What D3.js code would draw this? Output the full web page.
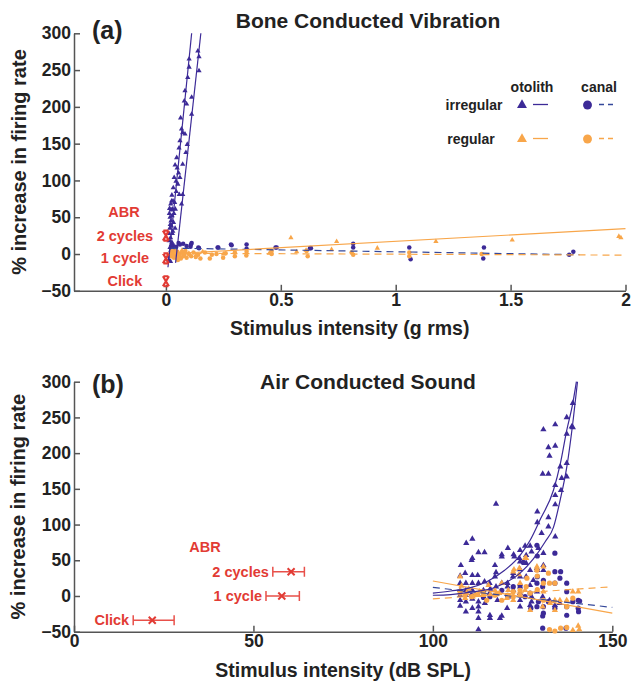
<!DOCTYPE html>
<html>
<head>
<meta charset="utf-8">
<script src="https://cdn.jsdelivr.net/npm/d3@7"></script>
<style>
  body { margin: 0; background: #fff; }
  text { font-family: "Liberation Sans", Arial, Helvetica, sans-serif; font-weight: bold; }
</style>
</head>
<body>
<script>
// ---------- (a) bone conducted vibration, x in g rms ----------
const aIrrOtolith = [[0.139,276],[0.144,268],[0.144,249],[0.101,265],[0.101,254],[0.083,222],[0.080,208],[0.112,213],[0.112,190],[0.068,170],[0.073,165],[0.061,154],[0.083,163],[0.093,149],[0.087,138],[0.047,131],[0.049,117],[0.073,122],[0.061,104],[0.044,99],[0.058,81],[0.073,81],[0.032,90],[0.025,72],[0.031,72],[0.068,68],[0.029,61],[0.041,61],[0.018,50],[0.033,43],[0.024,38],[0.030,31],[0.020,22],[0.018,9],[0.024,13],[0.015,55],[0.022,45],[0.027,52],[0.017,35],[0.028,28],[0.014,18],[0.021,5],[0.026,16],[0.016,-3],[0.012,-8],[0.019,40],[0.035,55],[0.038,70],[0.045,85],[0.052,95],[0.055,110],[0.040,35],[0.013,28],[0.023,60],[0.020,-10],[0.030,10],[0.016,62],[0.021,68],[0.026,80],[0.036,104],[0.040,121],[0.057,144],[0.064,185],[0.090,204],[0.095,240]];
const aIrrCanal = [[0.025,8],[0.030,12],[0.038,5],[0.045,10],[0.055,15],[0.061,13],[0.075,14],[0.090,11],[0.107,10],[0.109,13],[0.112,15],[0.141,9],[0.144,8],[0.225,9],[0.228,9],[0.283,13],[0.286,12],[0.351,13],[0.351,7],[0.477,9],[0.482,9],[0.627,8],[0.631,8],[0.815,14],[0.815,9],[1.059,9],[1.065,-7],[1.384,9],[1.381,-6],[1.755,-1],[1.773,3]];
const aRegOtolith = [[0.020,2],[0.030,-1],[0.035,-4],[0.040,4],[0.050,0],[0.060,-3],[0.070,5],[0.080,2],[0.100,1],[0.130,-2],[0.160,3],[0.250,0],[0.450,1],[0.544,22],[0.569,3],[0.610,5],[0.721,6],[0.743,17],[0.920,8],[1.175,17],[1.507,19],[1.971,24],[1.980,22]];
const aRegCanal = [[0.020,0],[0.025,-3],[0.028,4],[0.030,2],[0.035,-5],[0.040,1],[0.045,-2],[0.050,3],[0.052,-8],[0.055,-4],[0.060,0],[0.065,-6],[0.070,2],[0.075,-3],[0.080,-1],[0.085,4],[0.090,-5],[0.100,0],[0.110,-3],[0.120,2],[0.130,-4],[0.140,-1],[0.150,-6],[0.170,2],[0.191,-6],[0.200,-1],[0.220,0],[0.249,-5],[0.260,1],[0.300,-3],[0.300,2],[0.350,-2],[0.351,3],[0.460,4],[0.460,0],[0.612,4],[0.617,-3],[0.808,2],[0.815,-1],[1.059,2],[1.059,-3],[1.374,0]];
// fitted lines
const aFitIrrOtA = [[0.009,-18],[0.112,300]];
const aFitIrrOtB = [[0.042,-12],[0.152,300]];
const aFitRegOt = [[0,0],[2,34.5]];
const aFitIrrCanal = [[0.02,8],[1.8,-1]];
const aFitRegCanal = [[0.02,1],[2,-1.5]];
const aAbrLabels = ["2 cycles", "1 cycle", "Click"];
const aAbrY = [25, -6, -37];

// ---------- (b) air conducted sound, x in dB SPL ----------
const bIrrOtolith = [[139,270],[138.7,237],[137.3,250],[134.1,240],[130.8,233],[137.3,227],[132.2,208],[134.1,210],[132.5,196],[130.6,171],[132.2,171],[135.5,181],[137.3,186],[134.1,155],[135.9,165],[137.3,167],[135.7,148],[134.1,141],[134.1,128],[132.2,110],[134.1,83],[129.1,118],[129.1,103],[132.2,97],[130.3,88],[117.6,129],[139,236],
  [109.3,74],[111,80],[112.7,61],[114.4,61],[111,53],[110.8,50],[107.8,43],[119.2,58],[120.9,67],[122.5,58],[125.7,70],[127.1,70],[124.1,53],[126,46],[124.3,48],[127.5,62],[129.4,67],[130.8,43],[130.8,36],[129.1,36],[127.1,36],[124.3,37],[122.4,32],[117.3,43],[117.6,33],[120.8,18],[119.2,18],[124.3,64],[126,57],[129,39],[130.8,60],
  [107.6,28],[107.6,18],[107.6,8],[107.6,1],[107.6,-6],[107.6,-14],[109.2,18],[109.2,8],[109.2,1],[109.2,-8],[109.2,-22],[109,32],[111,29],[111,18],[111,8],[111,-4],[111,-17],[112.5,29],[112.7,18],[112.7,1],[112.7,-8],[112.7,-15],[112.7,-22],[112.7,-31],[112.7,-47],[114.4,20],[114.1,8],[114.5,-10],[115.8,18],[115.8,4],[115.9,-27],[115.9,-31],[117.3,27],[117.6,13],[118.7,-31],[119.2,-28],[119.2,55],[120.8,13],[121,-1],[122.3,27],[122.7,55],[124.3,27],[124.3,13],[124.3,4],[127.1,15],[127.5,-1],[127.5,-8],[129,6],[130.6,-1],[132.5,-6],[134,-13],[135.4,-10],[126,27],[128,22],[120.7,-17],[122.4,8],[124.3,-6],[124.3,-15],[127.1,-13],[116,10],[118,-6]];
const bIrrCanal = [[129,71],[129.1,56],[125.2,47],[134,60],[134,34],[135.6,34],[137.3,18],[137.3,6],[140.5,-6],[139,-8],[140.5,-17],[137.3,-15],[132.2,-8],[130.8,-15],[130.8,-24],[134,-17],[129,-15],[127.3,-17],[125.7,-1],[124.3,15],[122.4,13],[120.8,1],[119.2,8],[115.9,-1],[130.6,-45],[137.1,-45],[129,18],[130.6,13],[127.1,4],[129.1,27],[130.8,22],[135.4,25],[134,18],[129.4,-8],[114.1,-2],[110.8,1],[140.9,-7],[140.6,-22],[137.3,-27],[130.6,-28]];
const bRegOtolith = [[126,53],[124.1,39],[122.6,37],[129,41],[130.8,41],[125.7,53],[107.6,27],[107.6,8],[109.4,4],[111.1,-1],[112.7,1],[115.5,15],[117.3,8],[119.2,18],[121,8],[124.3,18],[125.7,8],[129,8],[130.8,6],[134,-6],[135.4,-6],[134,-20],[137.3,-6],[139,6],[140.5,6],[127.1,-20],[122.4,-6],[109,-3],[118.5,4],[139,-48],[140.5,-42],[140.8,-47],[130.6,-15],[132.7,-10],[114.1,1],[120.6,-3],[122.4,34],[124,30],[108,14],[110,10],[113,6],[116,2]];
const bRegCanal = [[129,36],[129.1,28],[130.8,18],[132.5,18],[134,18],[129.1,9],[126,13],[124.3,1],[122.4,-1],[121,1],[117.3,1],[114.1,4],[110.8,-1],[109,1],[107.6,4],[115,-6],[119.2,-6],[127.1,4],[130.8,-6],[135.6,-45],[134,-49],[132.5,-47],[137.3,-44],[132.2,32],[126.2,25],[122.4,6],[124.3,8],[137.3,-15],[139,-3],[112,2],[118,3]];
const bFitIrrOtA = [[100,4],[105,7],[110,11],[115,20],[120,36],[124.3,57],[127.1,78],[130,108],[133.6,148],[135.5,185],[137.3,232],[139,270],[140,300]];
const bFitIrrOtB = [[100,1],[105,2],[110,5],[117.8,13],[124.3,32],[128,52],[131.3,76],[133.6,96],[135.5,135],[137.3,180],[139.2,251],[140.3,300]];
const bFitRegOt = [[100,21],[150,-24]];
const bFitIrrCanal = [[100,12],[150,-16]];
const bFitRegCanal = [[100,-4],[150,13]];
const bAbrLabels = ["2 cycles", "1 cycle", "Click"];
const bAbrY = [34, 0, -34];
const bAbrMean = [60.5, 57.9, 21.8];
const bAbrLo = [55.4, 53.5, 16.5];
const bAbrHi = [64.2, 62.8, 27.9];

const yTicks = [-50, 0, 50, 100, 150, 200, 250, 300];

const purple = "#3c2a97", orange = "#f8a64a", dashPurple = "#35489a", red = "#e23b34", axisCol = "#555";

const svg = d3.select("body").append("svg")
  .attr("width", 632)
  .attr("height", 682);

function panel(o) {
  const x = d3.scaleLinear().domain(o.xDomain).range(o.xRange);
  const y = d3.scaleLinear().domain([-50, 300]).range(o.yRange);
  const g = svg.append("g");

  const xAxis = g.append("g")
    .attr("transform", `translate(0,${o.yRange[0]})`)
    .call(d3.axisBottom(x).tickValues(o.xTicks).tickFormat(d3.format("~g"))
      .tickSizeInner(-6).tickSizeOuter(0).tickPadding(3));
  const yAxis = g.append("g")
    .attr("transform", `translate(${o.xRange[0]},0)`)
    .call(d3.axisLeft(y).tickValues(yTicks).tickSizeInner(-6).tickSizeOuter(0).tickPadding(3));
  [xAxis, yAxis].forEach(a => {
    a.attr("font-size", 17.5);
    a.selectAll("path, line").attr("stroke", axisCol).attr("stroke-width", 1.5);
    a.selectAll("text").attr("fill", "#222");
  });

  g.append("text").attr("x", 92).attr("y", o.tagY).attr("font-size", 25).attr("fill", "#222").text(o.tag);
  g.append("text").attr("x", 368).attr("y", o.titleY).attr("text-anchor", "middle")
    .attr("font-size", 21).attr("fill", "#222").text(o.title);
  g.append("text").attr("x", (o.xRange[0] + o.xRange[1]) / 2).attr("y", o.xLabelY)
    .attr("text-anchor", "middle").attr("font-size", 19.5).attr("fill", "#222").text(o.xLabel);
  g.append("text")
    .attr("transform", `translate(${o.yLabelX},${(o.yRange[0] + o.yRange[1]) / 2}) rotate(-90)`)
    .attr("text-anchor", "middle").attr("font-size", 20).attr("fill", "#222")
    .text("% increase in firing rate");

  return { x, y, g };
}

function dots(p, data, type, size, color) {
  p.g.append("g").selectAll("path")
    .data(data)
    .join("path")
    .attr("transform", d => `translate(${p.x(d[0])},${p.y(d[1])})`)
    .attr("d", d3.symbol(type, size))
    .attr("fill", color);
}

function fit(p, data, color, dash, curve) {
  p.g.append("path")
    .datum(data)
    .attr("d", d3.line(d => p.x(d[0]), d => p.y(d[1])).curve(curve || d3.curveLinear))
    .attr("fill", "none")
    .attr("stroke", color)
    .attr("stroke-width", 1.2)
    .attr("stroke-dasharray", dash || null);
}

// ---------- panel (a) ----------
const pa = panel({
  xDomain: [-0.4, 2], xRange: [74, 625.5], yRange: [290.8, 33.3],
  xTicks: [0, 0.5, 1, 1.5, 2], tag: "(a)", tagY: 38.5,
  title: "Bone Conducted Vibration", titleY: 27.5,
  xLabel: "Stimulus intensity (g rms)", xLabelY: 335, yLabelX: 26
});

dots(pa, aIrrCanal, d3.symbolCircle, 16, purple);
dots(pa, aIrrOtolith, d3.symbolTriangle, 12, purple);
dots(pa, aRegCanal, d3.symbolCircle, 16, orange);
dots(pa, aRegOtolith, d3.symbolTriangle, 12, orange);
fit(pa, aFitIrrCanal, dashPurple, "7,5");
fit(pa, aFitRegCanal, orange, "7,5");
fit(pa, aFitRegOt, orange);
fit(pa, aFitIrrOtA, purple);
fit(pa, aFitIrrOtB, purple);

// ABR thresholds for BCV sit at 0 g
const aAbr = pa.g.append("g");
aAbr.selectAll("path")
  .data(aAbrY)
  .join("path")
  .attr("transform", d => `translate(${pa.x(0)},${pa.y(d)})`)
  .attr("d", "M-3,-5L3,5M3,-5L-3,5M-2.5,-5H2.5M-2.5,5H2.5")
  .attr("stroke", red)
  .attr("stroke-width", 2.2)
  .attr("fill", "none");
aAbr.selectAll("text.lab")
  .data(aAbrLabels)
  .join("text")
  .attr("class", "lab")
  .attr("x", pa.x(0) - 41)
  .attr("y", (d, i) => pa.y(aAbrY[i]) + 5)
  .attr("text-anchor", "middle")
  .attr("font-size", 14.5)
  .attr("fill", red)
  .text(d => d);
aAbr.append("text")
  .attr("x", pa.x(0) - 42)
  .attr("y", pa.y(aAbrY[0]) - 18.5)
  .attr("text-anchor", "middle")
  .attr("font-size", 14.5)
  .attr("fill", red)
  .text("ABR");

// legend
const leg = svg.append("g").attr("font-size", 14).attr("fill", "#222");
leg.append("text").attr("x", 532).attr("y", 91.5).attr("text-anchor", "middle").text("otolith");
leg.append("text").attr("x", 599).attr("y", 91.5).attr("text-anchor", "middle").text("canal");
leg.append("text").attr("x", 474).attr("y", 110).attr("text-anchor", "middle").text("irregular");
leg.append("text").attr("x", 471).attr("y", 144).attr("text-anchor", "middle").text("regular");
[[105, purple, dashPurple], [139, orange, orange]].forEach(([ly, c, dc]) => {
  leg.append("path").attr("transform", `translate(522,${ly})`).attr("d", d3.symbol(d3.symbolTriangle, 43)).attr("fill", c);
  leg.append("line").attr("x1", 533).attr("x2", 548).attr("y1", ly - 0.5).attr("y2", ly - 0.5)
    .attr("stroke", c).attr("stroke-width", 1.3);
  leg.append("path").attr("transform", `translate(587.5,${ly})`).attr("d", d3.symbol(d3.symbolCircle, 62)).attr("fill", c);
  leg.append("line").attr("x1", 599).attr("x2", 613).attr("y1", ly - 0.5).attr("y2", ly - 0.5)
    .attr("stroke", dc).attr("stroke-width", 1.3).attr("stroke-dasharray", "5,4");
});

// ---------- panel (b) ----------
const pb = panel({
  xDomain: [0, 150], xRange: [74, 612.3], yRange: [631.7, 381.7],
  xTicks: [0, 50, 100, 150], tag: "(b)", tagY: 393,
  title: "Air Conducted Sound", titleY: 388.5,
  xLabel: "Stimulus intensity (dB SPL)", xLabelY: 677, yLabelX: 25
});

dots(pb, bIrrOtolith, d3.symbolTriangle, 17, purple);
dots(pb, bIrrCanal, d3.symbolCircle, 21, purple);
dots(pb, bRegOtolith, d3.symbolTriangle, 17, orange);
dots(pb, bRegCanal, d3.symbolCircle, 21, orange);
fit(pb, bFitRegCanal, orange, "7,5");
fit(pb, bFitIrrCanal, dashPurple, "7,5");
fit(pb, bFitRegOt, orange);
fit(pb, bFitIrrOtA, purple, null, d3.curveMonotoneX);
fit(pb, bFitIrrOtB, purple, null, d3.curveMonotoneX);

// ABR thresholds for ACS with horizontal error bars
const bAbr = pb.g.append("g").attr("stroke", "#e8504a").attr("stroke-width", 1.5).attr("fill", "none");
bAbrY.forEach((v, i) => {
  const yy = pb.y(v), lo = pb.x(bAbrLo[i]), hi = pb.x(bAbrHi[i]), m = pb.x(bAbrMean[i]);
  bAbr.append("path").attr("d", `M${lo},${yy}H${hi}M${lo},${yy - 5}V${yy + 5}M${hi},${yy - 5}V${yy + 5}`);
  bAbr.append("path").attr("stroke", red).attr("stroke-width", 2)
    .attr("d", `M${m - 3.5},${yy - 3.5}L${m + 3.5},${yy + 3.5}M${m + 3.5},${yy - 3.5}L${m - 3.5},${yy + 3.5}`);
});
pb.g.selectAll("text.blab")
  .data(bAbrLabels)
  .join("text")
  .attr("class", "blab")
  .attr("x", (d, i) => pb.x(bAbrLo[i]) - 4)
  .attr("y", (d, i) => pb.y(bAbrY[i]) + 5)
  .attr("text-anchor", "end")
  .attr("font-size", 14.5)
  .attr("fill", red)
  .text(d => d);
pb.g.append("text")
  .attr("x", pb.x(36.5))
  .attr("y", pb.y(bAbrY[0]) - 20)
  .attr("text-anchor", "middle")
  .attr("font-size", 14.5)
  .attr("fill", red)
  .text("ABR");
</script>
</body>
</html>
